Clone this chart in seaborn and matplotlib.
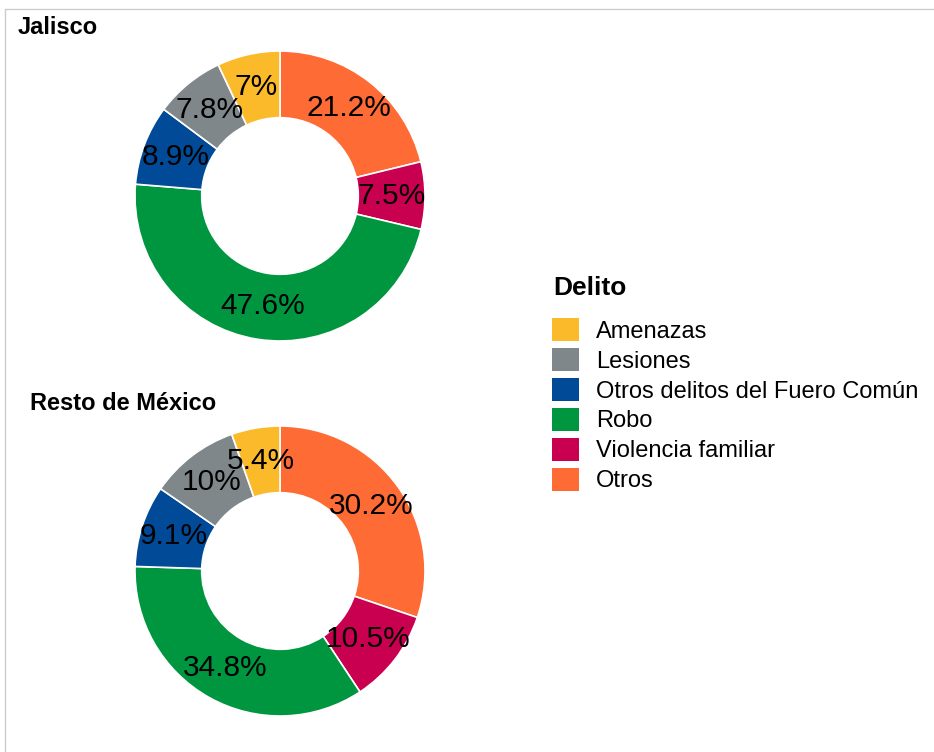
import matplotlib
matplotlib.use("Agg")
import matplotlib.pyplot as plt
import seaborn as sns
from matplotlib.patches import Patch
from matplotlib.lines import Line2D

sns.set_theme(style="white")
plt.rcParams['font.family'] = ['Liberation Sans', 'DejaVu Sans']
plt.rcParams['text.color'] = 'black'

categories = ["Amenazas", "Lesiones", "Otros delitos del Fuero Común", "Robo", "Violencia familiar", "Otros"]
colors = ["#FBBA2A", "#7F878B", "#004A98", "#00963F", "#C8004F", "#FF6B35"]
jalisco = [7.0, 7.8, 8.9, 47.6, 7.5, 21.2]
resto = [5.4, 10.0, 9.1, 34.8, 10.5, 30.2]
titles = ["Jalisco", "Resto de México"]
legend_title = "Delito"

W, H = 934, 752
fig = plt.figure(figsize=(W / 100, H / 100), dpi=100)

# pie order: clockwise from top starting with "Otros"
order = [5, 4, 3, 2, 1, 0]

def draw(vals, cx, cy, r, title, tx, ty):
    ax = fig.add_axes([(cx - r) / W, (H - cy - r) / H, 2 * r / W, 2 * r / H])
    v = [vals[i] for i in order]
    c = [colors[i] for i in order]
    ax.pie(v, colors=c, startangle=90, counterclock=False,
           radius=1.0, wedgeprops=dict(width=0.46, edgecolor="white", linewidth=1.2),
           autopct=lambda p: f"{round(p, 1):g}%", pctdistance=0.77,
           textprops=dict(fontsize=21.5, color="black"))
    ax.set_xlim(-1, 1)
    ax.set_ylim(-1, 1)
    ax.set_aspect("equal")
    ax.axis("off")
    fig.text(tx / W, 1 - ty / H, title, fontsize=17, fontweight="bold", color="black",
             ha="left", va="center")

draw(jalisco, 280, 196, 145, titles[0], 18, 28)
draw(resto, 280, 571, 145, titles[1], 30, 403)

handles = [Patch(facecolor=colors[i], edgecolor="none", label=categories[i]) for i in range(len(categories))]
leg = fig.legend(handles=handles, loc="upper left", bbox_to_anchor=(552 / W, 1 - 318 / H),
                 frameon=False, fontsize=17,
                 handlelength=1.15, handleheight=1.15, handletextpad=0.7, labelspacing=0.22,
                 borderpad=0, borderaxespad=0)
for t in leg.get_texts():
    t.set_color("black")
fig.text(553 / W, 1 - 288 / H, legend_title, fontsize=19, fontweight="bold", color="black",
         ha="left", va="center")

fig.add_artist(Line2D([5 / W, 1], [1 - 9 / H, 1 - 9 / H], color="#cccccc", linewidth=1))
fig.add_artist(Line2D([5 / W, 5 / W], [0, 1 - 9 / H], color="#cccccc", linewidth=1))

fig.savefig("out.png", dpi=100)
